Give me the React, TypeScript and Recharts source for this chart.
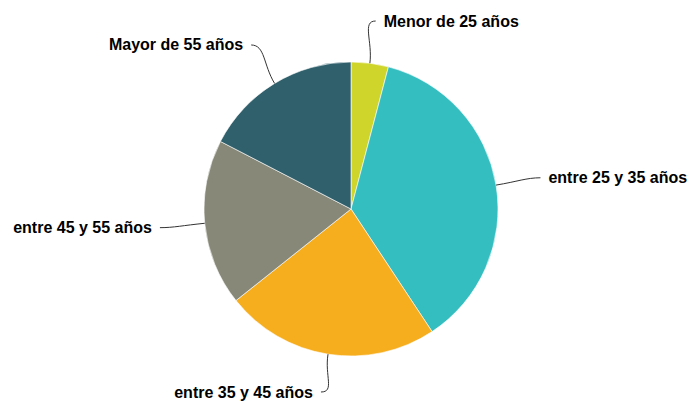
import React from 'react';
import { PieChart, Pie, Cell } from 'recharts';

const categories = ['Menor de 25 años', 'entre 25 y 35 años', 'entre 35 y 45 años', 'entre 45 y 55 años', 'Mayor de 55 años'];
const shares = [4.1, 36.6, 23.6, 18.3, 17.4];
const colors = ['#cfd52b', '#34bec0', '#f6ae1f', '#888878', '#2f606c'];

const data = categories.map((name, i) => ({ name, value: shares[i] }));

const W = 692;
const H = 402;
const RADIAN = Math.PI / 180;

// highcharts-like label: soft curved connector from slice edge to text
const renderLabel = (props: any) => {
  const { cx, cy, midAngle, outerRadius, name } = props;
  const cos = Math.cos(-midAngle * RADIAN);
  const sin = Math.sin(-midAngle * RADIAN);
  const side = cos >= 0 ? 1 : -1;
  const sx = cx + outerRadius * cos;
  const sy = cy + outerRadius * sin;
  const R = outerRadius + 45;
  const ax = cx + R * cos;
  // keep labels inside the plot vertically
  const ay = Math.max(21, Math.min(H - 10, cy + R * sin));
  const c1x = cx + (outerRadius + 22) * cos;
  const c1y = cy + (outerRadius + 22) * sin;
  const c2x = ax - side * 14;
  const c2y = ay;
  return (
    <g>
      <path
        d={`M${sx},${sy} C${c1x},${c1y} ${c2x},${c2y} ${ax},${ay}`}
        stroke="#333"
        strokeWidth={1}
        fill="none"
      />
      <text
        x={ax + side * 8}
        y={ay}
        textAnchor={side > 0 ? 'start' : 'end'}
        dominantBaseline="central"
        fontFamily="'Liberation Sans', Arial, sans-serif"
        fontWeight="bold"
        fontSize={16}
        fill="#000"
      >
        {name}
      </text>
    </g>
  );
};

export default function App() {
  return (
    <div style={{ position: 'absolute', left: 0, top: 0, width: W, height: H, background: '#fff' }}>
      <PieChart width={W} height={H} margin={{ top: 0, right: 0, bottom: 0, left: 0 }}>
        <Pie
          data={data}
          dataKey="value"
          nameKey="name"
          cx={351}
          cy={209}
          outerRadius={147}
          startAngle={90}
          endAngle={-270}
          stroke="#fff"
          strokeWidth={0.6}
          label={renderLabel}
          labelLine={false}
          isAnimationActive={false}
        >
          {data.map((d, i) => (
            <Cell key={d.name} fill={colors[i]} />
          ))}
        </Pie>
      </PieChart>
    </div>
  );
}
